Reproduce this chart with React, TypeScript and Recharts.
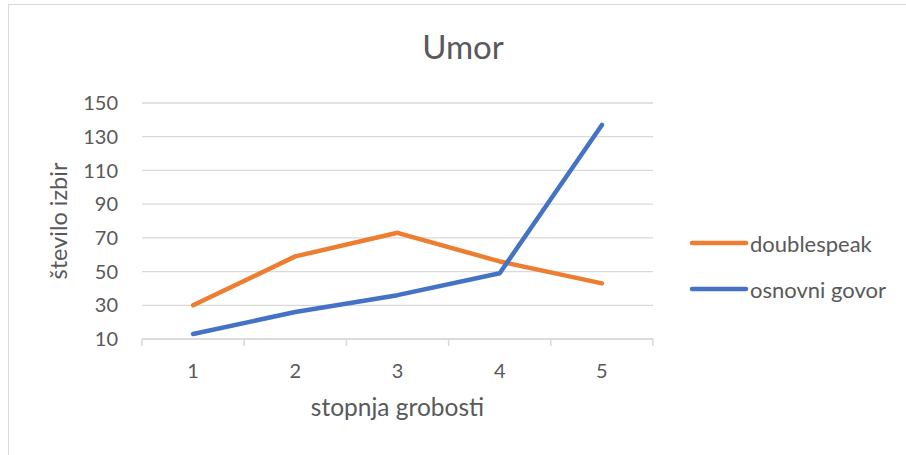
import React from 'react';
import { LineChart, Line, XAxis, YAxis, CartesianGrid, Legend } from 'recharts';

const categories = [1, 2, 3, 4, 5];
const doublespeak = [30, 59, 73, 56, 43];
const osnovniGovor = [13, 26, 36, 49, 137];
const yTicks = [10, 30, 50, 70, 90, 110, 130, 150];
const xTicks = [0.5, 1, 1.5, 2, 2.5, 3, 3.5, 4, 4.5, 5, 5.5];
const seriesNames = ['doublespeak', 'osnovni govor'];
const title = 'Umor';
const xTitle = 'stopnja grobosti';
const yTitle = 'število izbir';

const data = categories.map((c, i) => ({
  x: c,
  doublespeak: doublespeak[i],
  osnovni: osnovniGovor[i],
}));

const FONT = 'Lato, "Open Sans", sans-serif';
const TEXT = '#595959';
const GRID = '#d9d9d9';
const ORANGE = '#ED7D31';
const BLUE = '#4472C4';

const XTick = (props: any) => {
  const { x, y, payload } = props;
  const v = payload.value;
  if (Number.isInteger(v)) {
    return (
      <text x={x} y={y + 39} textAnchor="middle" fill={TEXT} fontSize={20} fontFamily={FONT}>
        {v}
      </text>
    );
  }
  return <line x1={x} y1={y} x2={x} y2={y + 7} stroke={GRID} strokeWidth={1.5} />;
};

const LegendContent = () => {
  const items = [
    { name: seriesNames[0], color: ORANGE },
    { name: seriesNames[1], color: BLUE },
  ];
  return (
    <div style={{ fontFamily: FONT }}>
      {items.map((it) => (
        <div key={it.name} style={{ display: 'flex', alignItems: 'center', height: 46 }}>
          <svg width={60} height={10} style={{ display: 'block' }}>
            <line x1={3} y1={5} x2={57} y2={5} stroke={it.color} strokeWidth={4.5} strokeLinecap="round" />
          </svg>
          <span style={{ fontSize: 22, color: TEXT, marginLeft: 1 }}>{it.name}</span>
        </div>
      ))}
    </div>
  );
};

export default function App() {
  return (
    <div style={{ position: 'absolute', left: 0, top: 0, width: 906, height: 455, overflow: 'hidden', background: '#fff' }}>
      <div style={{ position: 'absolute', left: 8, top: 4, width: 1200, height: 1000, border: '1px solid #d9d9d9' }} />
      <div
        style={{
          position: 'absolute',
          left: 363,
          width: 200,
          top: 26,
          textAlign: 'center',
          fontFamily: FONT,
          fontSize: 33,
          color: TEXT,
          lineHeight: '40px',
        }}
      >
        {title}
      </div>
      <div style={{ position: 'absolute', left: 0, top: 0 }}>
        <LineChart width={906} height={455} data={data} margin={{ top: 103, right: 253, bottom: 0, left: 0 }}>
          <CartesianGrid vertical={false} stroke={GRID} strokeWidth={1.3} />
          <XAxis
            dataKey="x"
            type="number"
            domain={[0.5, 5.5]}
            ticks={xTicks}
            interval={0}
            allowDataOverflow
            height={116}
            tickSize={0}
            tickMargin={0}
            tickLine={false}
            axisLine={{ stroke: GRID, strokeWidth: 1.5 }}
            tick={<XTick />}
            label={(p: any) => {
              const vb = p.viewBox;
              return (
                <text x={vb.x + vb.width / 2} y={vb.y + 77} textAnchor="middle" fill={TEXT} fontSize={24.5} fontFamily={FONT}>
                  {xTitle}
                </text>
              );
            }}
          />
          <YAxis
            type="number"
            domain={[10, 150]}
            ticks={yTicks}
            interval={0}
            width={142}
            tickSize={0}
            tickMargin={24}
            tickLine={false}
            axisLine={false}
            tick={{ fill: TEXT, fontSize: 20, fontFamily: FONT }}
            label={(p: any) => {
              const vb = p.viewBox;
              const cx = 58;
              const cy = vb.y + vb.height / 2;
              return (
                <text
                  x={cx}
                  y={cy}
                  transform={`rotate(-90 ${cx} ${cy})`}
                  textAnchor="middle"
                  dominantBaseline="central"
                  fill={TEXT}
                  fontSize={23.5}
                  fontFamily={FONT}
                >
                  {yTitle}
                </text>
              );
            }}
          />
          <Legend
            layout="vertical"
            align="center"
            verticalAlign="middle"
            wrapperStyle={{ left: 689, top: 220, width: 'auto' }}
            content={<LegendContent />}
          />
          <Line
            type="linear"
            dataKey="doublespeak"
            name={seriesNames[0]}
            stroke={ORANGE}
            strokeWidth={4.5}
            strokeLinecap="round"
            strokeLinejoin="round"
            dot={false}
            activeDot={false}
            isAnimationActive={false}
          />
          <Line
            type="linear"
            dataKey="osnovni"
            name={seriesNames[1]}
            stroke={BLUE}
            strokeWidth={4.5}
            strokeLinecap="round"
            strokeLinejoin="round"
            dot={false}
            activeDot={false}
            isAnimationActive={false}
          />
        </LineChart>
      </div>
    </div>
  );
}
